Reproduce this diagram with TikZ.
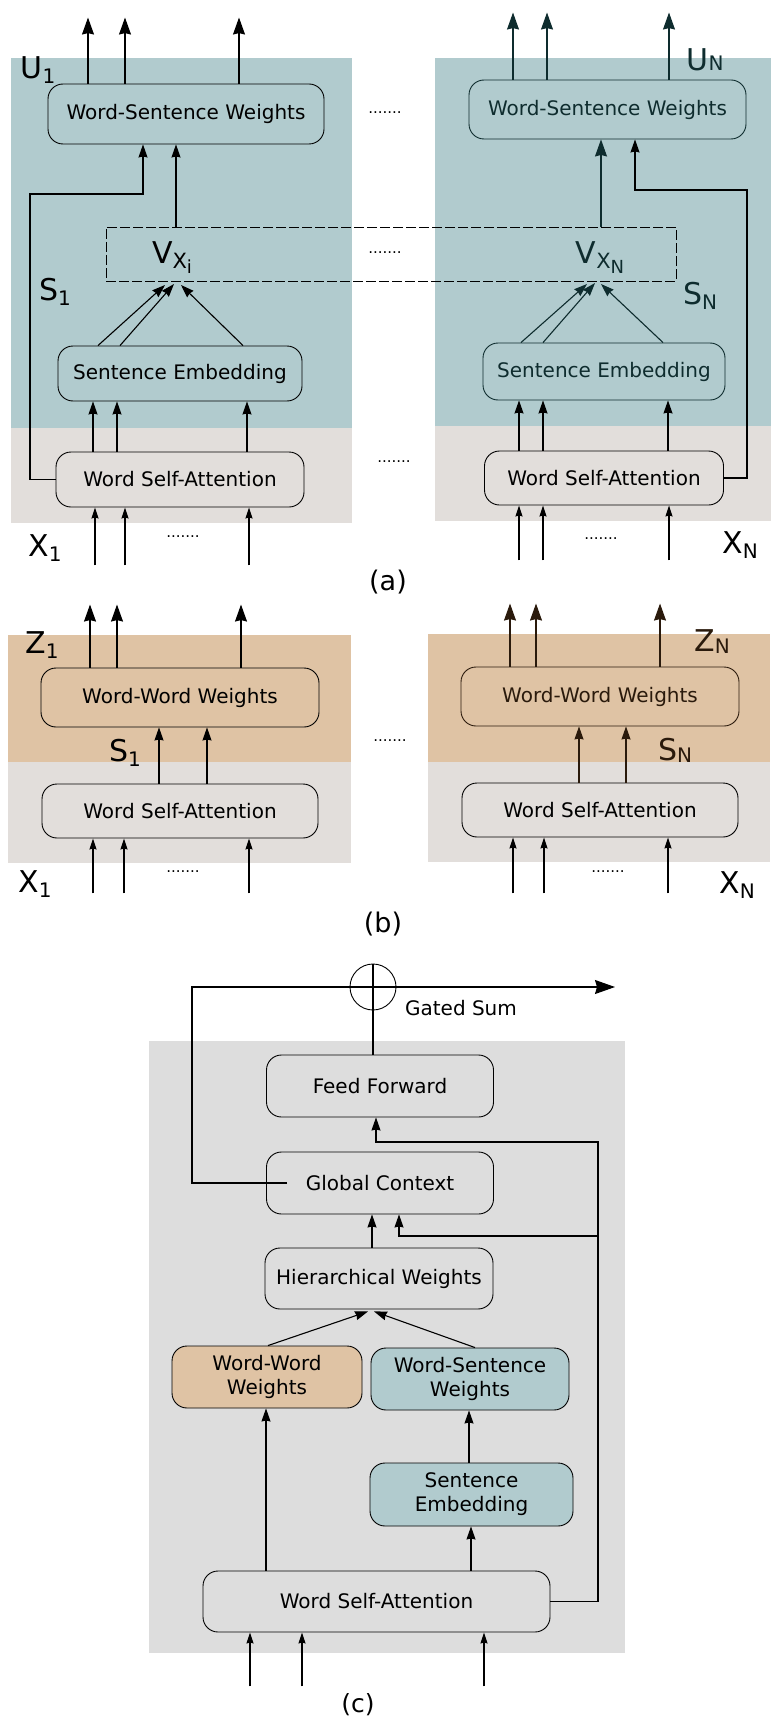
\documentclass[tikz,border=0pt]{standalone}
\usepackage{fontspec}
\setmainfont{DejaVu Sans}
\usetikzlibrary{arrows.meta,calc}
\definecolor{blu}{HTML}{B1CBCE}
\definecolor{gra}{HTML}{E2DEDB}
\definecolor{ora}{HTML}{DFC3A4}
\definecolor{grc}{HTML}{DDDDDD}
\definecolor{dteal}{HTML}{0E2C2E}
\definecolor{dbrown}{HTML}{2A1A0C}
\newcommand\biglab[3][5pt]{{\fontsize{30}{30}\selectfont #2}\raisebox{-#1}{\fontsize{20}{20}\selectfont #3}}
\newcommand\vlab[1]{{\fontsize{30}{30}\selectfont V}\raisebox{-5pt}{\fontsize{21}{21}\selectfont X\raisebox{-5pt}{\fontsize{18}{18}\selectfont #1}}}
\begin{document}
\begin{tikzpicture}[x=1pt,y=-1pt,
  font=\fontsize{20}{24}\selectfont,
  box/.style={draw, line width=0.9pt, rounded corners=15pt, inner sep=0pt, align=center},
  ln/.style={line width=1.1pt},
  arr/.style={ln,-{Stealth[length=13pt,width=9pt,inset=1pt]}},
  arrb/.style={ln,-{Stealth[length=17pt,width=12pt,inset=1.5pt]}},
  arrs/.style={ln,-{Stealth[length=11pt,width=7pt,inset=1pt]}},
  dotsl/.style={font=\fontsize{15}{15}\selectfont, inner sep=0pt},
  lab/.style={inner sep=0pt},
  figcap/.style={inner sep=0pt, font=\fontsize{27}{27}\selectfont},
]
\useasboundingbox (0,0) rectangle (771,1720);
% ================= (a) =================
\fill[blu] (11,58) rectangle (352,428);
\fill[gra] (11,428) rectangle (352,523);
\fill[blu] (435,58) rectangle (771,426);
\fill[gra] (435,426) rectangle (771,521);
\node[draw, line width=0.8pt, dash pattern=on 10pt off 3pt, minimum width=570pt, minimum height=54pt, inner sep=0pt] (vbox) at (391,254) {};
% left
\node[box, minimum width=276pt, minimum height=60pt] (wsw1) at (186,114) {Word-Sentence Weights};
\node[box, minimum width=244pt, minimum height=55pt] (se1) at (180,373.5) {Sentence Embedding};
\node[box, minimum width=248pt, minimum height=55pt] (wsa1) at (180,479.5) {Word Self-Attention};
\node[lab] (u1) at (38,70) {\biglab{U}{1}};
\node[lab] (s1) at (55,292) {\biglab{S}{1}};
\node[lab] (vx1) at (172,258) {\vlab{i}};
\node[lab] (x1) at (45,548) {\biglab{X}{1}};
\foreach \d in {-98,-61,53} \draw[arrb] ($(wsw1.north)+(\d,0)$) -- ++(0,-66);
\coordinate (s1c) at (30,194);
\draw[arr] (wsa1.west) -| (s1c) -| ($(wsw1.south)+(-43,0)$);
\draw[arr] ($(wsw1.south)+(-10,83)$) -- ($(wsw1.south)+(-10,0)$);
\coordinate (vt1a) at (165,285);
\coordinate (vt1b) at (174,284);
\coordinate (vt1c) at (181,285);
\draw[arr] ($(se1.north)+(-82,0)$) -- (vt1a);
\draw[arr] ($(se1.north)+(-60,0)$) -- (vt1b);
\draw[arr] ($(se1.north)+(63,0)$) -- (vt1c);
\foreach \d in {-87,-63,67} \draw[arr] ($(wsa1.north)+(\d,0)$) -- ($(se1.south)+(\d,0)$);
\foreach \d in {-85,-55,69} \draw[arrs] ($(wsa1.south)+(\d,58)$) -- ($(wsa1.south)+(\d,0)$);
\node[dotsl] (da1) at (385,113) {.......};
\node[dotsl] (da2) at (385,253) {.......};
\node[dotsl] (da3) at (394,462) {.......};
\node[dotsl] (da4) at (183,537) {.......};
% right
\begin{scope}[color=dteal]
\node[box, text=dteal, minimum width=277pt, minimum height=59pt] (wswN) at (607.5,109.5) {Word-Sentence Weights};
\node[box, text=dteal, minimum width=242pt, minimum height=57pt] (seN) at (604,371.5) {Sentence Embedding};
\node[lab, text=dteal] (uN) at (705,60) {\biglab[0pt]{U}{N}};
\node[lab, text=dteal] (sN) at (700,296) {\biglab{S}{N}};
\node[lab, text=dteal] (vxN) at (600,258) {\vlab{N}};
\foreach \d in {-94.5,-60.5,61.5} \draw[arrb] ($(wswN.north)+(\d,0)$) -- ++(0,-67);
\draw[arrb] ($(wswN.south)+(-6.5,88)$) -- ($(wswN.south)+(-6.5,0)$);
\coordinate (vtNa) at (587,284);
\coordinate (vtNb) at (595,283);
\coordinate (vtNc) at (601,284);
\draw[arr] ($(seN.north)+(-83,0)$) -- (vtNa);
\draw[arr] ($(seN.north)+(-61,0)$) -- (vtNb);
\draw[arr] ($(seN.north)+(59,0)$) -- (vtNc);
\end{scope}
\node[box, minimum width=239pt, minimum height=54pt] (wsaN) at (604,478) {Word Self-Attention};
\node[lab] (xN) at (740,545) {\biglab{X}{N}};
\coordinate (sNc) at (747,190);
\draw[arr] (wsaN.east) -| (sNc) -| ($(wswN.south)+(27.5,0)$);
\foreach \d in {-85,-61,64} \draw[arr] ($(wsaN.north)+(\d,0)$) -- ($(seN.south)+(\d,0)$);
\foreach \d in {-85,-61,65} \draw[arrs] ($(wsaN.south)+(\d,55)$) -- ($(wsaN.south)+(\d,0)$);
\node[dotsl] (da5) at (601,539) {.......};
\node[figcap] (alab) at (388,582) {(a)};
% ================= (b) =================
\fill[ora] (8,635) rectangle (351,762);
\fill[gra] (8,762) rectangle (351,863);
\fill[ora] (428,634) rectangle (770,762);
\fill[gra] (428,762) rectangle (770,862);
\node[box, minimum width=278pt, minimum height=59pt] (www1) at (180,697.5) {Word-Word Weights};
\node[box, minimum width=276pt, minimum height=54pt] (wsab1) at (180,811) {Word Self-Attention};
\node[box, draw=dbrown, text=dbrown, minimum width=278pt, minimum height=59pt] (wwwN) at (600,696.5) {Word-Word Weights};
\node[box, minimum width=276pt, minimum height=54pt] (wsabN) at (600,810) {Word Self-Attention};
\foreach \d in {-90,-63,61} \draw[arrb] ($(www1.north)+(\d,0)$) -- ++(0,-63);
\foreach \d in {-21,27} \draw[arr] ($(wsab1.north)+(\d,0)$) -- ($(www1.south)+(\d,0)$);
\foreach \d in {-87,-56,69} \draw[arrs] ($(wsab1.south)+(\d,55)$) -- ($(wsab1.south)+(\d,0)$);
\foreach \d in {-90,-64,60} \draw[arrb, dbrown] ($(wwwN.north)+(\d,0)$) -- ++(0,-63);
\foreach \d in {-21,26} \draw[arr, dbrown] ($(wsabN.north)+(\d,0)$) -- ($(wwwN.south)+(\d,0)$);
\foreach \d in {-87,-56,68} \draw[arrs] ($(wsabN.south)+(\d,56)$) -- ($(wsabN.south)+(\d,0)$);
\node[lab] (z1) at (42,645) {\biglab{Z}{1}};
\node[lab] (sb1) at (125,753) {\biglab{S}{1}};
\node[lab] (xb1) at (35,884) {\biglab{X}{1}};
\node[lab, text=dbrown] (zN) at (712,642) {\biglab[2pt]{Z}{N}};
\node[lab, text=dbrown] (sbN) at (675,750) {\biglab[2pt]{S}{N}};
\node[lab] (xbN) at (737,885) {\biglab{X}{N}};
\node[dotsl] (db1) at (183,872) {.......};
\node[dotsl] (db2) at (390,741) {.......};
\node[dotsl] (db3) at (608,872) {.......};
\node[figcap] (blab) at (383,924) {(b)};
% ================= (c) =================
\fill[grc] (149,1041) rectangle (625,1653);
\node[box, minimum width=227pt, minimum height=62pt] (FF) at (380,1086) {Feed Forward};
\node[box, minimum width=227pt, minimum height=62pt] (GC) at (380,1183) {Global Context};
\node[box, minimum width=228pt, minimum height=61pt] (HW) at (379,1278.5) {Hierarchical Weights};
\node[box, fill=ora, minimum width=190pt, minimum height=62pt] (WW) at (267,1377) {Word-Word\\Weights};
\node[box, fill=blu, minimum width=198pt, minimum height=62pt] (WSW) at (470,1379) {Word-Sentence\\Weights};
\node[box, fill=blu, minimum width=203pt, minimum height=63pt] (SE) at (471.5,1494.5) {Sentence\\Embedding};
\node[box, minimum width=347pt, minimum height=61pt] (WSA) at (376.5,1601.5) {Word Self-Attention};
\node[draw, circle, line width=0.9pt, minimum size=46pt, inner sep=0pt] (gs) at (373,987) {};
\draw[ln] (gs.north) -- (gs.south);
\draw[ln] ($(FF.north)+(-7,0)$) -- (gs.south);
\coordinate (gl) at (192,987);
\coordinate (gout) at (615,987);
\draw[ln,-{Stealth[length=20pt,width=14pt,inset=2pt]}] ($(GC.west)+(21,0)$) -| (gl) -- (gout);
\node (gsum) at (461,1008) {Gated Sum};
\draw[arr] ($(HW.north)+(-7,0)$) -- ($(GC.south)+(-8,0)$);
\coordinate (rtop) at (598,1142);
\coordinate (rmid) at (598,1236);
\draw[arr] (WSA.east) -| (rtop) -| ($(FF.south)+(-4,0)$);
\draw[arr] (rmid) -| ($(GC.south)+(19,0)$);
\draw[arr] ($(WW.north)+(1,0)$) -- ($(HW.south)+(-11,2)$);
\draw[arr] ($(WSW.north)+(5,0)$) -- ($(HW.south)+(-5,2)$);
\draw[arr] ($(WSA.north)+(-110.5,0)$) -- ($(WW.south)+(-1,0)$);
\draw[arr] ($(SE.north)+(-2.5,0)$) -- ($(WSW.south)+(-1,0)$);
\draw[arr] ($(WSA.north)+(94.5,0)$) -- ($(SE.south)+(-0.5,0)$);
\foreach \d in {-126.5,-74.5,107.5} \draw[arrs] ($(WSA.south)+(\d,54)$) -- ($(WSA.south)+(\d,0)$);
\node[figcap, font=\fontsize{25}{25}\selectfont] (clab) at (358,1705) {(c)};
\end{tikzpicture}
\end{document}
